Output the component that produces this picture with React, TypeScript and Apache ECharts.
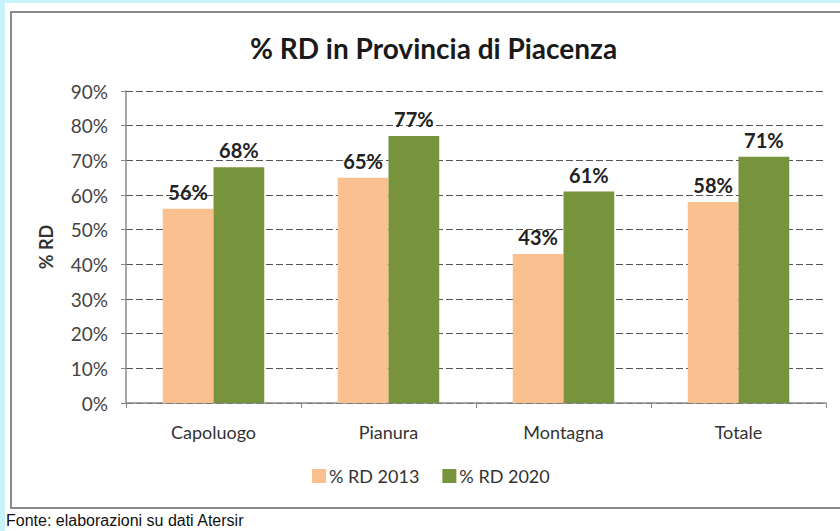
import React, { useEffect, useRef } from "react";
import * as echarts from "echarts";

const categories = ["Capoluogo", "Pianura", "Montagna", "Totale"];
const rd2013 = [56, 65, 43, 58];
const rd2020 = [68, 77, 61, 71];
const seriesNames = ["% RD 2013", "% RD 2020"];
const titleText = "% RD in Provincia di Piacenza";
const yAxisName = "% RD";
const sourceText = "Fonte: elaborazioni su dati Atersir";

const FONT = "Lato, 'Open Sans', sans-serif";

export default function App() {
  const ref = useRef<HTMLDivElement>(null);
  useEffect(() => {
    document.body.style.margin = "0";
    const chart = echarts.init(ref.current!, null, { renderer: "svg" });
    const labelStyle = {
      show: true,
      position: "top" as const,
      distance: 7,
      formatter: "{c}%",
      fontFamily: FONT,
      fontWeight: "bold" as const,
      fontSize: 20,
      color: "#222",
    };
    chart.setOption({
      animation: false,
      backgroundColor: "#ffffff",
      title: {
        text: titleText,
        left: 245,
        top: 29,
        textStyle: { fontFamily: FONT, fontWeight: "bold", fontSize: 28, color: "#1a1a1a" },
      },
      legend: {
        data: seriesNames,
        left: 307,
        top: 462,
        itemWidth: 14,
        itemHeight: 14,
        itemGap: 23,
        icon: "rect",
        textStyle: { fontFamily: FONT, fontSize: 18, color: "#333", padding: [0, 0, 0, -2] },
      },
      grid: { left: 126, right: 14, top: 91, bottom: 128 },
      xAxis: {
        type: "category",
        data: categories,
        axisLine: { lineStyle: { color: "#888", width: 1.5 } },
        axisTick: { show: true, length: 5, lineStyle: { color: "#888" } },
        axisLabel: { fontFamily: FONT, fontSize: 18, color: "#333", margin: 20 },
      },
      yAxis: {
        type: "value",
        min: 0,
        max: 90,
        interval: 10,
        name: yAxisName,
        nameLocation: "middle",
        nameGap: 71,
        nameRotate: 90,
        nameTextStyle: { fontFamily: FONT, fontWeight: "bold", fontSize: 18, color: "#333" },
        axisLine: { show: true, lineStyle: { color: "#888", width: 1.5 } },
        axisTick: { show: true, length: 5, lineStyle: { color: "#888" } },
        axisLabel: { formatter: "{value}%", fontFamily: FONT, fontSize: 19, color: "#444", margin: 18 },
        splitLine: { show: true, lineStyle: { color: "#555", type: [7, 3], width: 1 } },
      },
      graphic: [
        { type: "rect", shape: { x: 0, y: 0, width: 5, height: 531 }, style: { fill: "#c9f3fb" }, silent: true },
        { type: "rect", shape: { x: 0, y: 0, width: 840, height: 3 }, style: { fill: "#c9f3fb" }, silent: true },
        {
          type: "rect",
          shape: { x: 11, y: 12, width: 840, height: 496 },
          style: { fill: "none", stroke: "#8a8a8a", lineWidth: 2 },
          silent: true,
          z: -1,
        },
        {
          type: "text",
          left: 6,
          top: 512,
          style: { text: sourceText, fontFamily: "'Liberation Sans', Arial, sans-serif", fontSize: 16, fill: "#111" },
        },
      ],
      series: [
        {
          name: seriesNames[0],
          type: "bar",
          data: rd2013,
          barGap: "0%",
          barCategoryGap: "42%",
          itemStyle: { color: "#fac090" },
          label: labelStyle,
        },
        {
          name: seriesNames[1],
          type: "bar",
          data: rd2020,
          itemStyle: { color: "#77933c" },
          label: labelStyle,
        },
      ],
    });
    return () => chart.dispose();
  }, []);
  return <div ref={ref} style={{ position: "absolute", left: 0, top: 0, width: 840, height: 531 }} />;
}
